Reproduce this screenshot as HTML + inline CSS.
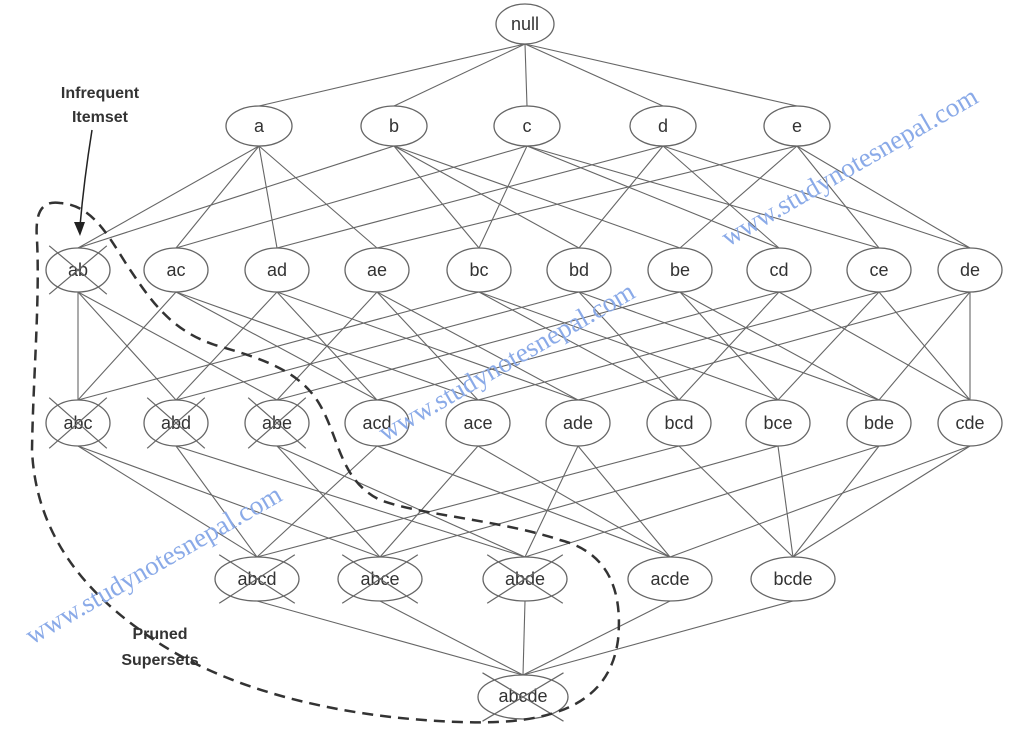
<!DOCTYPE html>
<html><head><meta charset="utf-8"><style>
html,body{margin:0;padding:0;background:#fff}
svg{display:block}
.n{fill:#fff;stroke:#666;stroke-width:1.3}
.t{font-family:"Liberation Sans",Arial,sans-serif;font-size:18px;fill:#333;text-anchor:middle}
.w{font-family:"Liberation Serif",serif;font-size:27px;fill:#8aaae8}
</style></head><body>
<svg id="s" width="1024" height="735" viewBox="0 0 1024 735" xmlns="http://www.w3.org/2000/svg">
<g id="edges" stroke="#666" stroke-width="1.1" fill="none"></g>
<g id="nodes"></g>
<g id="labels">
<text class="t" x="525" y="30">null</text>
<text class="t" x="259" y="132">a</text><text class="t" x="394" y="132">b</text><text class="t" x="527" y="132">c</text><text class="t" x="663" y="132">d</text><text class="t" x="797" y="132">e</text>
<text class="t" x="78" y="276">ab</text><text class="t" x="176" y="276">ac</text><text class="t" x="277" y="276">ad</text><text class="t" x="377" y="276">ae</text><text class="t" x="479" y="276">bc</text><text class="t" x="579" y="276">bd</text><text class="t" x="680" y="276">be</text><text class="t" x="779" y="276">cd</text><text class="t" x="879" y="276">ce</text><text class="t" x="970" y="276">de</text>
<text class="t" x="78" y="429">abc</text><text class="t" x="176" y="429">abd</text><text class="t" x="277" y="429">abe</text><text class="t" x="377" y="429">acd</text><text class="t" x="478" y="429">ace</text><text class="t" x="578" y="429">ade</text><text class="t" x="679" y="429">bcd</text><text class="t" x="778" y="429">bce</text><text class="t" x="879" y="429">bde</text><text class="t" x="970" y="429">cde</text>
<text class="t" x="257" y="585">abcd</text><text class="t" x="380" y="585">abce</text><text class="t" x="525" y="585">abde</text><text class="t" x="670" y="585">acde</text><text class="t" x="793" y="585">bcde</text>
<text class="t" x="523" y="702">abcde</text>
</g>
<g id="crosses" stroke="#666" stroke-width="1.2"></g>
<path d="M60 203 C40 200,35 215,37 240 C40 300,33 380,32 450 C35 520,70 580,140 630 C220 690,340 718,460 722 C560 726,610 700,618 640 C624 580,600 550,560 540 C500 520,420 515,380 500 C340 480,340 440,320 405 C300 370,260 358,215 345 C170 330,150 300,125 262 C105 230,90 205,60 203 Z" fill="none" stroke="#333" stroke-width="2.5" stroke-dasharray="11,7"/>
<text x="100" y="98" style="font-family:'Liberation Sans',sans-serif;font-size:16px;font-weight:bold;fill:#333;text-anchor:middle">Infrequent</text>
<text x="100" y="122" style="font-family:'Liberation Sans',sans-serif;font-size:16px;font-weight:bold;fill:#333;text-anchor:middle">Itemset</text>
<path d="M92 130 Q84 180 80 226" fill="none" stroke="#222" stroke-width="1.5"/>
<path d="M74 222 L80 236 L85 222 Z" fill="#222"/>
<text x="160" y="639" style="font-family:'Liberation Sans',sans-serif;font-size:16px;font-weight:bold;fill:#333;text-anchor:middle">Pruned</text>
<text x="160" y="665" style="font-family:'Liberation Sans',sans-serif;font-size:16px;font-weight:bold;fill:#333;text-anchor:middle">Supersets</text>
<text class="w" transform="translate(728,247) rotate(-30)">www.studynotesnepal.com</text>
<text class="w" transform="translate(385,442) rotate(-30)">www.studynotesnepal.com</text>
<text class="w" transform="translate(32,645) rotate(-30)">www.studynotesnepal.com</text>
</svg>
<script>
var N={null:[525,24,29,20]};
var L1={a:259,b:394,c:527,d:663,e:797};
for(var k in L1)N[k]=[L1[k],126,33,20];
var L2={ab:78,ac:176,ad:277,ae:377,bc:479,bd:579,be:680,cd:779,ce:879,de:970};
for(k in L2)N[k]=[L2[k],270,32,22];
var L3={abc:78,abd:176,abe:277,acd:377,ace:478,ade:578,bcd:679,bce:778,bde:879,cde:970};
for(k in L3)N[k]=[L3[k],423,32,23];
var L4={abcd:257,abce:380,abde:525,acde:670,bcde:793};
for(k in L4)N[k]=[L4[k],579,42,22];
N.abcde=[523,697,45,22];
var ns="http://www.w3.org/2000/svg",E=document.getElementById("edges"),G=document.getElementById("nodes"),C=document.getElementById("crosses");
function line(g,x1,y1,x2,y2){var l=document.createElementNS(ns,"line");l.setAttribute("x1",x1);l.setAttribute("y1",y1);l.setAttribute("x2",x2);l.setAttribute("y2",y2);g.appendChild(l);}
function isSub(a,b){for(var i=0;i<a.length;i++)if(b.indexOf(a[i])<0)return false;return true;}
var keys=Object.keys(N);
keys.forEach(function(p){keys.forEach(function(c){
 var pl=p=="null"?0:p.length;
 if(c.length==pl+1&&c!="null"&&(p=="null"||isSub(p,c))){var P=N[p],Q=N[c];line(E,P[0],P[1]+P[3],Q[0],Q[1]-Q[3]);}
});});
keys.forEach(function(k){var n=N[k];var e=document.createElementNS(ns,"ellipse");e.setAttribute("class","n");e.setAttribute("cx",n[0]);e.setAttribute("cy",n[1]);e.setAttribute("rx",n[2]);e.setAttribute("ry",n[3]);G.appendChild(e);});
["ab","abc","abd","abe","abcd","abce","abde","abcde"].forEach(function(k){var n=N[k];var dx=n[2]*0.9,dy=n[3]*1.1;line(C,n[0]-dx,n[1]-dy,n[0]+dx,n[1]+dy);line(C,n[0]+dx,n[1]-dy,n[0]-dx,n[1]+dy);});
</script>
</body></html>
